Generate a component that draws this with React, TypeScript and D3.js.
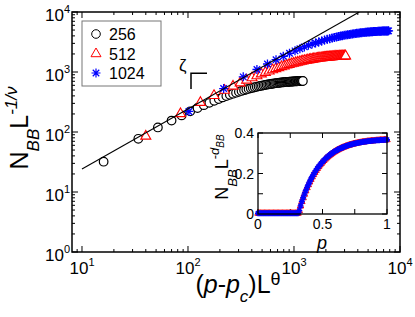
import React from 'react';
import * as d3 from 'd3';

// main panel: (p-pc)L^theta vs N_BB L^(-1/nu), one array pair per system size
const x256 = [16, 34, 52, 70, 87, 105, 123, 141, 159, 177, 195, 212, 230, 248, 266, 284, 302, 320, 338, 355, 373, 391, 409, 427, 445, 463, 481, 498, 516, 534, 552, 570, 588, 606, 623, 641, 659, 677, 695, 713, 731, 749, 766, 784, 802, 820, 838, 856, 874, 892, 909, 927, 945, 963, 981, 999, 1017, 1035, 1052, 1070, 1088, 1106, 1124, 1142, 1160, 1177, 1195, 1213];
const y256 = [32, 77, 119, 155, 189, 221, 251, 280, 306, 331, 355, 377, 397, 417, 435, 452, 468, 483, 498, 511, 523, 535, 546, 557, 567, 576, 584, 592, 600, 607, 614, 620, 626, 632, 637, 642, 646, 651, 655, 659, 662, 666, 669, 672, 675, 677, 680, 682, 684, 686, 688, 690, 692, 693, 695, 696, 698, 699, 700, 701, 702, 703, 704, 705, 706, 706, 707, 708];

const x512 = [40, 85, 131, 176, 221, 266, 311, 357, 402, 447, 492, 537, 583, 628, 673, 718, 763, 809, 854, 899, 944, 989, 1035, 1080, 1125, 1170, 1215, 1261, 1306, 1351, 1396, 1441, 1487, 1532, 1577, 1622, 1667, 1713, 1758, 1803, 1848, 1893, 1939, 1984, 2029, 2074, 2119, 2165, 2210, 2255, 2300, 2345, 2391, 2436, 2481, 2526, 2571, 2617, 2662, 2707, 2752, 2797, 2843, 2888, 2933, 2978, 3023, 3069];
const y512 = [86, 204, 314, 410, 500, 585, 664, 739, 809, 875, 937, 995, 1050, 1101, 1149, 1194, 1237, 1277, 1315, 1350, 1383, 1414, 1443, 1471, 1497, 1521, 1544, 1565, 1586, 1605, 1622, 1639, 1654, 1669, 1683, 1696, 1708, 1720, 1730, 1741, 1750, 1759, 1767, 1775, 1783, 1790, 1796, 1802, 1808, 1813, 1818, 1823, 1828, 1832, 1836, 1840, 1843, 1846, 1849, 1852, 1855, 1857, 1860, 1862, 1865, 1866, 1868, 1870];

const x1024 = [102, 217, 332, 447, 562, 677, 792, 907, 1022, 1137, 1252, 1367, 1482, 1597, 1712, 1827, 1942, 2057, 2172, 2287, 2402, 2517, 2632, 2747, 2862, 2977, 3092, 3207, 3322, 3437, 3552, 3667, 3782, 3897, 4012, 4127, 4242, 4357, 4472, 4587, 4702, 4817, 4932, 5047, 5162, 5277, 5392, 5507, 5622, 5737, 5852, 5967, 6082, 6197, 6312, 6427, 6542, 6657, 6772, 6887, 7002, 7117, 7232, 7347, 7462, 7577, 7692, 7807];
const y1024 = [220, 530, 830, 1100, 1360, 1600, 1830, 2050, 2250, 2440, 2620, 2780, 2920, 3050, 3170, 3290, 3400, 3500, 3590, 3680, 3760, 3840, 3910, 3975, 4035, 4090, 4140, 4185, 4230, 4270, 4310, 4345, 4380, 4410, 4440, 4470, 4495, 4520, 4545, 4565, 4585, 4605, 4622, 4640, 4655, 4670, 4684, 4697, 4710, 4722, 4733, 4744, 4754, 4763, 4772, 4780, 4788, 4795, 4802, 4808, 4814, 4820, 4825, 4830, 4835, 4840, 4844, 4848];

// straight guide line (slope zeta), end points
const fitX = [10, 4130];
const fitY = [24.2, 10000];

// inset: p vs N_BB L^(-d_BB), all sizes collapse
const insetP = [0, 0.01, 0.02, 0.03, 0.04, 0.05, 0.06, 0.07, 0.08, 0.09, 0.1, 0.11, 0.12, 0.13, 0.14, 0.15, 0.16, 0.17, 0.18, 0.19, 0.2, 0.21, 0.22, 0.23, 0.24, 0.25, 0.26, 0.27, 0.28, 0.29, 0.3, 0.31, 0.32, 0.33, 0.34, 0.35, 0.36, 0.37, 0.38, 0.39, 0.4, 0.41, 0.42, 0.43, 0.44, 0.45, 0.46, 0.47, 0.48, 0.49, 0.5, 0.51, 0.52, 0.53, 0.54, 0.55, 0.56, 0.57, 0.58, 0.59, 0.6, 0.61, 0.62, 0.63, 0.64, 0.65, 0.66, 0.67, 0.68, 0.69, 0.7, 0.71, 0.72, 0.73, 0.74, 0.75, 0.76, 0.77, 0.78, 0.79, 0.8, 0.81, 0.82, 0.83, 0.84, 0.85, 0.86, 0.87, 0.88, 0.89, 0.9, 0.91, 0.92, 0.93, 0.94, 0.95, 0.96, 0.97, 0.98, 0.99, 1];
const insetY = [0.004, 0.004, 0.004, 0.004, 0.004, 0.004, 0.004, 0.004, 0.004, 0.004, 0.004, 0.004, 0.004, 0.004, 0.004, 0.004, 0.004, 0.004, 0.004, 0.004, 0.004, 0.004, 0.004, 0.004, 0.004, 0.004, 0.004, 0.004, 0.004, 0.004, 0.004, 0.004,
  0.0168, 0.04, 0.0615, 0.0803, 0.098, 0.1146, 0.1302, 0.1448, 0.1586, 0.1715, 0.1837, 0.1951, 0.2058, 0.2159, 0.2253, 0.2342, 0.2426, 0.2504, 0.2578, 0.2647, 0.2712, 0.2773, 0.283, 0.2884, 0.2935, 0.2982, 0.3027, 0.3069, 0.3109, 0.3146, 0.318, 0.3213, 0.3244, 0.3273, 0.33, 0.3325, 0.3349, 0.3372, 0.3393, 0.3413, 0.3431, 0.3449, 0.3465, 0.3481, 0.3495, 0.3509, 0.3521, 0.3533, 0.3545, 0.3555, 0.3565, 0.3575, 0.3584, 0.3592, 0.36, 0.3607, 0.3614, 0.362, 0.3626, 0.3632, 0.3637, 0.3642, 0.3647, 0.3651, 0.3656, 0.3659, 0.3663, 0.3667, 0.367];

const legendLabels = ['256', '512', '1024'];
const xExps = [1, 2, 3, 4];
const yExps = [0, 1, 2, 3, 4];
const insetXMajor = [0, 0.5, 1];
const insetXLabels = ['0', '0.5', '1'];
const insetXMinor = [0.25, 0.75];
const insetYMajor = [0, 0.2, 0.4];
const insetYLabels = ['0', '0.2', '0.4'];
const insetYMinor = [0.1, 0.3];

const FONT = 'Liberation Sans, Arial, Helvetica, sans-serif';
const RED = '#ff0000';
const BLUE = '#0000ff';

const triPath = (s: number) => `M0,${-1.1 * s}L${s},${0.64 * s}L${-s},${0.64 * s}Z`;
const starPath = (s: number) => {
  const d = s * 0.72;
  return `M${-s},0H${s}M0,${-s}V${s}M${-d},${-d}L${d},${d}M${-d},${d}L${d},${-d}`;
};

const App: React.FC = () => {
  const L = 72, R = 400, T = 12, B = 252;
  const x = d3.scaleLog().domain([8.05, 1e4]).range([L, R]);
  const y = d3.scaleLog().domain([1, 1e4]).range([B, T]);

  const isMajor = (v: number) => Math.abs(Math.log10(v) - Math.round(Math.log10(v))) < 1e-9;
  const xt = x.ticks();
  const yt = y.ticks();

  // inset frame
  const iL = 258, iR = 387, iT = 133, iB = 214;
  const ix = d3.scaleLinear().domain([0, 1]).range([iL, iR]);
  const iy = d3.scaleLinear().domain([0, 0.4]).range([iB, iT]);

  const fit = d3.line<number>().x(d => x(fitX[d])).y(d => y(fitY[d]));

  return (
    <svg width={415} height={317} style={{ position: 'absolute', left: 0, top: 0, background: '#fff' }} fontFamily={FONT}>
      <defs>
        <clipPath id="plotClip">
          <rect x={L} y={T} width={R - L} height={B - T} />
        </clipPath>
      </defs>
      <rect width={415} height={317} fill="#fff" />

      {/* ticks, all four sides, inward */}
      {xt.map((t, i) => {
        const len = isMajor(t) ? 6 : 3;
        return (
          <g key={'xt' + i} stroke="#000" strokeWidth={1}>
            <line x1={x(t)} x2={x(t)} y1={B} y2={B - len} />
            <line x1={x(t)} x2={x(t)} y1={T} y2={T + len} />
          </g>
        );
      })}
      {yt.map((t, i) => {
        const len = isMajor(t) ? 6 : 3;
        return (
          <g key={'yt' + i} stroke="#000" strokeWidth={1}>
            <line x1={L} x2={L + len} y1={y(t)} y2={y(t)} />
            <line x1={R} x2={R - len} y1={y(t)} y2={y(t)} />
          </g>
        );
      })}

      {xExps.map(e => (
        <text key={'xl' + e} x={x(Math.pow(10, e))} y={274} textAnchor="middle" fontSize={17}>
          10<tspan dy={-8} fontSize={11}>{e}</tspan>
        </text>
      ))}
      {yExps.map(e => (
        <text key={'yl' + e} x={70} y={y(Math.pow(10, e)) + 8.5} textAnchor="end" fontSize={17}>
          10<tspan dy={-8} fontSize={11}>{e}</tspan>
        </text>
      ))}

      {/* data */}
      <g clipPath="url(#plotClip)">
        {x256.map((v, i) => (
          <circle key={'c' + i} cx={x(v)} cy={y(y256[i])} r={4.3} fill="#fff" stroke="#000" strokeWidth={1.2} />
        ))}
        {x512.map((v, i) => (
          <path key={'t' + i} d={triPath(5)} transform={`translate(${x(v)},${y(y512[i])})`} fill="#fff" stroke={RED} strokeWidth={1.1} />
        ))}
        {x1024.map((v, i) => (
          <path key={'s' + i} d={starPath(4.5)} transform={`translate(${x(v)},${y(y1024[i])})`} fill="none" stroke={BLUE} strokeWidth={1.3} />
        ))}
        <path d={fit([0, 1]) || ''} fill="none" stroke="#000" strokeWidth={1.1} />
      </g>

      <rect x={L} y={T} width={R - L} height={B - T} fill="none" stroke="#000" strokeWidth={1.5} />

      {/* legend */}
      <rect x={82} y={21} width={79} height={65} fill="#fff" stroke="#777" strokeWidth={1} />
      {legendLabels.map((lab, i) => {
        const cy = 34 + i * 19.5;
        return (
          <g key={'lg' + i}>
            {i === 0 && <circle cx={96} cy={cy} r={4.3} fill="#fff" stroke="#000" strokeWidth={1} />}
            {i === 1 && <path d={triPath(5)} transform={`translate(96,${cy})`} fill="#fff" stroke={RED} strokeWidth={1} />}
            {i === 2 && <path d={starPath(4.5)} transform={`translate(96,${cy})`} fill="none" stroke={BLUE} strokeWidth={1.2} />}
            <text x={109} y={cy + 6} fontSize={16}>{lab}</text>
          </g>
        );
      })}

      {/* zeta slope mark */}
      <text x={179} y={71} fontSize={17}>ζ</text>
      <path d="M191,89V73.3H207" fill="none" stroke="#000" strokeWidth={1.5} />

      {/* axis titles */}
      <text transform="translate(28,128) rotate(-90)" textAnchor="middle" fontSize={25}>
        N<tspan dy={11} fontSize={17} fontStyle="italic">BB</tspan>
        <tspan dy={-11}>L</tspan>
        <tspan dy={-11} fontSize={17} fontStyle="italic">-1/ν</tspan>
      </text>
      <text x={238} y={293} textAnchor="middle" fontSize={25}>
        (<tspan fontStyle="italic">p</tspan>-<tspan fontStyle="italic">p</tspan>
        <tspan dy={9} fontSize={17} fontStyle="italic">c</tspan>
        <tspan dy={-9}>)L</tspan>
        <tspan dy={-8} fontSize={18}>θ</tspan>
      </text>

      {/* inset */}
      <rect x={iL} y={iT} width={iR - iL} height={iB - iT} fill="#fff" />
      {insetXMajor.concat(insetXMinor).map((t, i) => (
        <g key={'ixt' + i} stroke="#000" strokeWidth={1}>
          <line x1={ix(t)} x2={ix(t)} y1={iB} y2={iB - 5} />
          <line x1={ix(t)} x2={ix(t)} y1={iT} y2={iT + 5} />
        </g>
      ))}
      {insetYMajor.concat(insetYMinor).map((t, i) => (
        <g key={'iyt' + i} stroke="#000" strokeWidth={1}>
          <line x1={iL} x2={iL + 5} y1={iy(t)} y2={iy(t)} />
          <line x1={iR} x2={iR - 5} y1={iy(t)} y2={iy(t)} />
        </g>
      ))}
      {insetXMajor.map((t, i) => (
        <text key={'ixl' + i} x={ix(t)} y={228.5} textAnchor="middle" fontSize={14}>{insetXLabels[i]}</text>
      ))}
      {insetYMajor.map((t, i) => (
        <text key={'iyl' + i} x={254} y={iy(t) + 5} textAnchor="end" fontSize={14}>{insetYLabels[i]}</text>
      ))}
      {insetP.map((p, i) => (
        <path key={'it' + i} d={triPath(3.2)} transform={`translate(${ix(p)},${iy(insetY[i])})`} fill="#fff" stroke={RED} strokeWidth={1} />
      ))}
      {insetP.map((p, i) => (
        <path key={'is' + i} d={starPath(3)} transform={`translate(${ix(p)},${iy(insetY[i])})`} fill="none" stroke={BLUE} strokeWidth={1.4} />
      ))}
      <rect x={iL} y={iT} width={iR - iL} height={iB - iT} fill="none" stroke="#000" strokeWidth={1.3} />
      <text x={322} y={249} textAnchor="middle" fontSize={18} fontStyle="italic">p</text>
      <text transform="translate(228,167) rotate(-90)" textAnchor="middle" fontSize={18}>
        N<tspan dy={9} fontSize={13} fontStyle="italic">BB</tspan>
        <tspan dy={-9}>L</tspan>
        <tspan dy={-9} fontSize={13}>-</tspan>
        <tspan fontSize={13} fontStyle="italic">d</tspan>
        <tspan dy={5} fontSize={10} fontStyle="italic">BB</tspan>
      </text>
    </svg>
  );
};

export default App;
